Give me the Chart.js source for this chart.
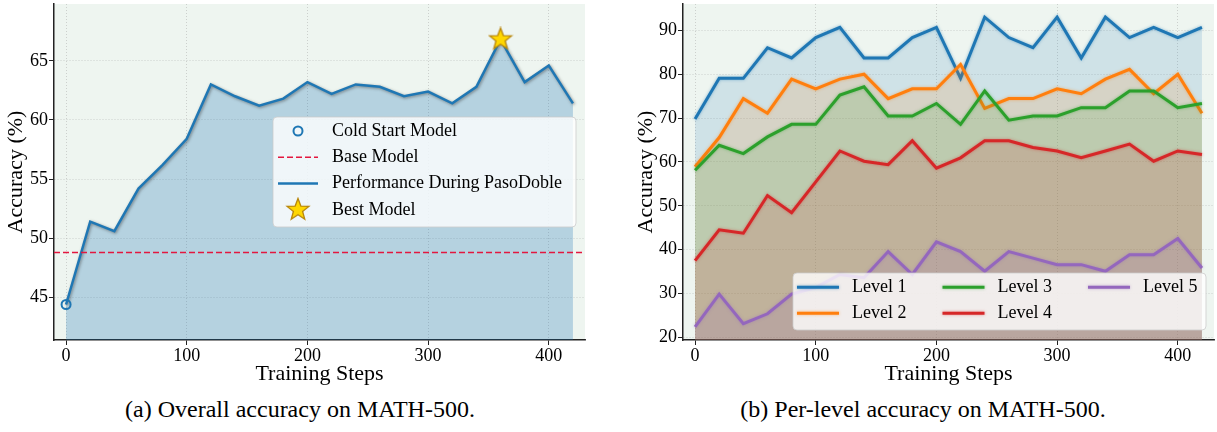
<!DOCTYPE html>
<html>
<head>
<meta charset="utf-8">
<script src="https://cdn.jsdelivr.net/npm/chart.js@4"></script>
<style>
  body { margin: 0; background: #fff; }
  #wrap { position: relative; width: 1217px; height: 432px; overflow: hidden;
          font-family: "Liberation Serif", "Times New Roman", serif; }
  canvas { position: absolute; top: 0; }
  #overall { left: 0; }
  #perLevel { left: 608px; }
  .caption { position: absolute; top: 395px; font-size: 24px; line-height: 28px; color: #000;
             white-space: nowrap; transform: translateX(-50%); }
</style>
</head>
<body>
<div id="wrap">
  <canvas id="overall" width="600" height="390"></canvas>
  <canvas id="perLevel" width="609" height="390"></canvas>
  <div class="caption" style="left:300px">(a) Overall accuracy on MATH-500.</div>
  <div class="caption" style="left:923px">(b) Per-level accuracy on MATH-500.</div>
</div>
<script>
// training checkpoints, every 20 steps
const steps = [0, 20, 40, 60, 80, 100, 120, 140, 160, 180, 200, 220, 240, 260, 280, 300, 320, 340, 360, 380, 400, 420];
const stepRange = [-10, 430];

// overall MATH-500 accuracy (%)
const overallAcc = [44.4, 51.4, 50.6, 54.2, 56.2, 58.4, 63.0, 62.0, 61.2, 61.8, 63.2, 62.2, 63.0, 62.8, 62.0, 62.4, 61.4, 62.8, 66.8, 63.2, 64.6, 61.4];
const coldStartAcc = 44.4;
const baseAcc = 48.8;
const bestStep = 360;
const bestAcc = 66.8;

// per-level accuracy (%)
const levelNames = ['Level 1', 'Level 2', 'Level 3', 'Level 4', 'Level 5'];
const level1 = [69.77, 79.07, 79.07, 86.05, 83.72, 88.37, 90.70, 83.72, 83.72, 88.37, 90.70, 79.07, 93.02, 88.37, 86.05, 93.02, 83.72, 93.02, 88.37, 90.70, 88.37, 90.70];
const level2 = [58.89, 65.56, 74.44, 71.11, 78.89, 76.67, 78.89, 80.00, 74.44, 76.67, 76.67, 82.22, 72.22, 74.44, 74.44, 76.67, 75.56, 78.89, 81.11, 75.56, 80.00, 71.11];
const level3 = [58.10, 63.81, 61.90, 65.71, 68.57, 68.57, 75.24, 77.14, 70.48, 70.48, 73.33, 68.57, 76.19, 69.52, 70.48, 70.48, 72.38, 72.38, 76.19, 76.19, 72.38, 73.33];
const level4 = [37.50, 44.53, 43.75, 52.34, 48.44, 55.47, 62.50, 60.16, 59.38, 64.84, 58.59, 60.94, 64.84, 64.84, 63.28, 62.50, 60.94, 62.50, 64.06, 60.16, 62.50, 61.72];
const level5 = [22.39, 29.85, 23.13, 25.37, 29.85, 31.34, 34.33, 33.58, 39.55, 34.33, 41.79, 39.55, 35.07, 39.55, 38.06, 36.57, 36.57, 35.07, 38.81, 38.81, 42.54, 35.82];
const levelColors = ['31,119,180', '255,127,14', '44,160,44', '214,39,40', '148,103,189'];

const FONT = '"Liberation Serif", "Times New Roman", serif';
Chart.defaults.font.family = FONT;
Chart.defaults.color = '#000';

function pts(values) {
  return steps.map((s, i) => ({ x: s, y: values[i] }));
}

function starImage(size, fill, edge) {
  const c = document.createElement('canvas');
  c.width = c.height = size;
  const g = c.getContext('2d');
  const r = size / 2 - 1.5, ri = r * 0.42, cx = size / 2, cy = size / 2;
  g.beginPath();
  for (let k = 0; k < 10; k++) {
    const rr = k % 2 ? ri : r;
    const a = -Math.PI / 2 + k * Math.PI / 5;
    g.lineTo(cx + rr * Math.cos(a), cy + rr * Math.sin(a));
  }
  g.closePath();
  g.fillStyle = fill;
  g.fill();
  g.lineWidth = 1.3;
  g.strokeStyle = edge;
  g.stroke();
  return c;
}
const star = starImage(26, '#ffd700', '#b8860b');

// pale plot face
const plotBg = {
  id: 'plotBg',
  beforeDraw(chart, args, opts) {
    const { ctx, chartArea: a } = chart;
    ctx.save();
    ctx.fillStyle = opts.color;
    ctx.fillRect(a.left, a.top, a.width, a.height);
    ctx.restore();
  }
};

// soft halo under the lines
const glow = {
  id: 'glow',
  beforeDatasetDraw(chart, args) {
    const ds = chart.data.datasets[args.index];
    if (!ds.glow) return;
    const ctx = chart.ctx;
    ctx.save();
    ctx.shadowColor = ds.glow;
    ctx.shadowBlur = 3;
    ctx.shadowOffsetX = ds.glowOffset || 0;
    ctx.shadowOffsetY = ds.glowOffset || 0;
  },
  afterDatasetDraw(chart, args) {
    if (chart.data.datasets[args.index].glow) chart.ctx.restore();
  }
};

// framed legend drawn inside the plot, filled column by column
const boxLegend = {
  id: 'boxLegend',
  afterDraw(chart, args, o) {
    const ctx = chart.ctx;
    ctx.save();
    ctx.beginPath();
    ctx.roundRect(o.x, o.y, o.w, o.h, 4);
    ctx.fillStyle = 'rgba(255,255,255,0.8)';
    ctx.fill();
    ctx.lineWidth = 1;
    ctx.strokeStyle = 'rgba(204,204,204,0.8)';
    ctx.stroke();
    ctx.font = o.fontSize + 'px ' + FONT;
    ctx.textBaseline = 'middle';
    o.items.forEach((it, i) => {
      const col = Math.floor(i / o.rows), row = i % o.rows;
      const hx = o.x + o.padX + col * o.colW;
      const cy = o.y + o.padY + row * o.rowH;
      const mid = hx + o.handleW / 2;
      ctx.save();
      if (it.kind === 'line' || it.kind === 'dash') {
        if (it.glow) { ctx.shadowColor = it.glow; ctx.shadowBlur = 3; }
        ctx.strokeStyle = it.color;
        ctx.lineWidth = it.width;
        ctx.setLineDash(it.kind === 'dash' ? it.dash : []);
        ctx.beginPath();
        ctx.moveTo(hx, cy);
        ctx.lineTo(hx + o.handleW, cy);
        ctx.stroke();
      } else if (it.kind === 'circle') {
        ctx.strokeStyle = it.color;
        ctx.lineWidth = 2;
        ctx.beginPath();
        ctx.arc(mid, cy, 4.5, 0, Math.PI * 2);
        ctx.stroke();
      } else if (it.kind === 'image') {
        ctx.drawImage(it.image, mid - it.image.width / 2, cy - it.image.height / 2);
      }
      ctx.restore();
      ctx.fillStyle = '#000';
      ctx.fillText(it.label, hx + o.textOffset, cy);
    });
    ctx.restore();
  }
};

function axes(yMin, yMax, yStep, yWidth, yTitlePad) {
  const grid = { color: 'rgba(160,160,160,0.55)', lineWidth: 0.8, tickColor: '#222', tickLength: 5, tickWidth: 1, tickBorderDash: [] };
  const border = { color: '#222', width: 1.5, dash: [1, 2] };
  const tickFont = { family: FONT, size: 18 };
  const titleFont = { family: FONT, size: 22 };
  return {
    x: {
      type: 'linear', min: stepRange[0], max: stepRange[1],
      afterFit(s) { s.height = 50; s.paddingLeft = 0; s.paddingRight = 0; },
      ticks: { stepSize: 100, includeBounds: false, font: tickFont, color: '#000', padding: 0, maxRotation: 0 },
      grid: grid, border: border,
      title: { display: true, text: 'Training Steps', font: titleFont, color: '#000', padding: { top: 0, bottom: 3 } }
    },
    y: {
      min: yMin, max: yMax,
      afterFit(s) { s.width = yWidth; s.paddingTop = 0; s.paddingBottom = 0; },
      ticks: { stepSize: yStep, includeBounds: false, font: tickFont, color: '#000', padding: 1 },
      grid: grid, border: border,
      title: { display: true, text: 'Accuracy (%)', font: titleFont, color: '#000', padding: { top: yTitlePad, bottom: 0 } }
    }
  };
}

const common = {
  responsive: false,
  animation: false,
  devicePixelRatio: 1,
  events: [],
  elements: { line: { tension: 0 } }
};

// (a) overall accuracy
const blue = 'rgb(31,119,180)';
new Chart(document.getElementById('overall'), {
  type: 'line',
  data: {
    datasets: [
      { label: 'Best Model', data: [{ x: bestStep, y: bestAcc }], showLine: false,
        pointStyle: star, pointRadius: 13, order: 0 },
      { label: 'Cold Start Model', data: [{ x: 0, y: coldStartAcc }], showLine: false,
        pointRadius: 4.5, pointBorderWidth: 2, pointBorderColor: blue, pointBackgroundColor: 'rgba(0,0,0,0)', order: 1 },
      { label: 'Base Model', data: stepRange.map(x => ({ x: x, y: baseAcc })),
        borderColor: '#e3173f', borderWidth: 1.5, borderDash: [6, 3], pointRadius: 0, fill: false, order: 2 },
      { label: 'Performance During PasoDoble', data: pts(overallAcc),
        borderColor: blue, borderWidth: 2.5, backgroundColor: 'rgba(31,119,180,0.27)', fill: 'start',
        pointRadius: 0, glow: 'rgba(60,60,60,0.55)', glowOffset: 1, order: 3 }
    ]
  },
  options: Object.assign({}, common, {
    layout: { autoPadding: false, padding: { top: 4, right: 15, left: 0, bottom: 0 } },
    scales: axes(coldStartAcc - 3, bestAcc + 3, 5, 54, 3),
    plugins: {
      legend: { display: false },
      tooltip: { enabled: false },
      plotBg: { color: '#eef5f0' },
      boxLegend: {
        x: 273, y: 117, w: 303, h: 110, rows: 4, rowH: 26.3, padX: 5, padY: 14, colW: 0,
        handleW: 40, textOffset: 54, fontSize: 18,
        items: [
          { label: 'Cold Start Model', kind: 'circle', color: blue },
          { label: 'Base Model', kind: 'dash', color: '#e3173f', width: 1.5, dash: [6, 3] },
          { label: 'Performance During PasoDoble', kind: 'line', color: blue, width: 2.5 },
          { label: 'Best Model', kind: 'image', image: star }
        ]
      }
    }
  }),
  plugins: [plotBg, glow, boxLegend]
});

// (b) per-level accuracy
const levels = [level1, level2, level3, level4, level5];
const allLevelVals = [].concat(...levels);
new Chart(document.getElementById('perLevel'), {
  type: 'line',
  data: {
    datasets: levels.map((vals, i) => ({
      label: levelNames[i], data: pts(vals),
      borderColor: 'rgb(' + levelColors[i] + ')', borderWidth: 3,
      backgroundColor: 'rgba(' + levelColors[i] + ',0.15)', fill: 'start',
      pointRadius: 0, glow: 'rgba(' + levelColors[i] + ',0.5)', order: 5 - i
    }))
  },
  options: Object.assign({}, common, {
    layout: { autoPadding: false, padding: { top: 4, right: 3, left: 0, bottom: 0 } },
    scales: axes(Math.min(...allLevelVals) - 3, Math.max(...allLevelVals) + 3, 10, 75, 25),
    plugins: {
      legend: { display: false },
      tooltip: { enabled: false },
      plotBg: { color: '#eef5f0' },
      boxLegend: {
        x: 185, y: 273, w: 413, h: 57, rows: 2, rowH: 26, padX: 4, padY: 14.3, colW: 145.5,
        handleW: 42, textOffset: 55, fontSize: 18,
        items: levelNames.map((n, i) => ({ label: n, kind: 'line', color: 'rgb(' + levelColors[i] + ')', width: 3,
          glow: 'rgba(' + levelColors[i] + ',0.5)' }))
      }
    }
  }),
  plugins: [plotBg, glow, boxLegend]
});
</script>
</body>
</html>
